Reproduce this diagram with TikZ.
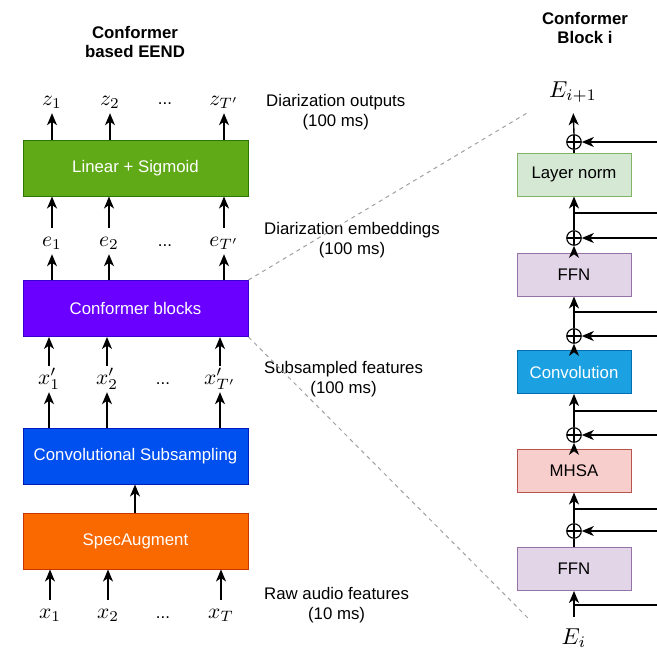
\documentclass[tikz,border=0pt]{standalone}
\usepackage{fontspec}
\setmainfont{Liberation Sans}
\usetikzlibrary{arrows.meta,calc}

\definecolor{linfill}{HTML}{60A917}
\definecolor{linline}{HTML}{2D7600}
\definecolor{conffill}{HTML}{6A00FF}
\definecolor{confline}{HTML}{3700CC}
\definecolor{subfill}{HTML}{0050EF}
\definecolor{subline}{HTML}{001DBC}
\definecolor{specfill}{HTML}{FA6800}
\definecolor{specline}{HTML}{C73500}
\definecolor{lnfill}{HTML}{D5E8D4}
\definecolor{lnline}{HTML}{82B366}
\definecolor{ffnfill}{HTML}{E1D5E7}
\definecolor{ffnline}{HTML}{9673A6}
\definecolor{cvfill}{HTML}{1BA1E2}
\definecolor{cvline}{HTML}{006EAF}
\definecolor{mhfill}{HTML}{F8CECC}
\definecolor{mhline}{HTML}{B85450}
\definecolor{guide}{HTML}{A0A0A0}

% math labels: 10pt math scaled up
\newcommand{\mlab}[1]{\scalebox{2.15}{$#1$}}
\newcommand{\mlabE}[1]{\scalebox{2.3}{$#1$}}

\begin{document}
\begin{tikzpicture}[x=1pt,y=-1pt,
  txt/.style={font=\fontsize{16.8}{19.5}\selectfont},
  bigblk/.style={txt, draw, line width=1pt, minimum width=225pt, minimum height=56pt, text=white, inner sep=0pt},
  smallblk/.style={txt, draw, line width=1pt, minimum width=114pt, minimum height=43pt, inner sep=0pt},
  lab/.style={inner sep=2pt, text height=16pt, text depth=6pt, anchor=base},
  dotlab/.style={txt, anchor=base, inner sep=0pt},
  side/.style={txt, align=center, anchor=west, inner sep=0pt},
  ttl/.style={txt, font=\fontsize{16.8}{19.5}\selectfont\bfseries, align=center, inner sep=0pt},
  arr/.style={line width=1.4pt, -{Stealth[length=12pt,width=10pt,inset=3.5pt]}},
  ln/.style={line width=1.4pt},
  plus/.style={circle, draw, line width=1.1pt, minimum size=14.5pt, inner sep=0pt,
    path picture={\draw[line width=1.1pt] (path picture bounding box.north) -- (path picture bounding box.south)
      (path picture bounding box.west) -- (path picture bounding box.east);}},
  guideline/.style={guide, line width=1pt, dash pattern=on 4pt off 4pt}
]
\useasboundingbox (0,0) rectangle (657,651);

% ---------------- titles ----------------
\node[ttl] (t1) at (135,42) {Conformer\\based EEND};
\node[ttl] (t2) at (585,28) {Conformer\\Block i};

% ---------------- left stack ----------------
\node[bigblk, fill=linfill, draw=linline] (lin) at (135.5,168) {Linear + Sigmoid};
\node[bigblk, fill=conffill, draw=confline] (conf) at (135.5,308.5) {Conformer blocks};
\node[bigblk, fill=subfill, draw=subline] (csub) at (135.5,456) {Convolutional Subsampling};
\node[bigblk, fill=specfill, draw=specline] (spec) at (135.5,541) {SpecAugment};

% outputs
\node[lab] (z1) at (52,105) {\mlab{z_1}};
\node[lab] (z2) at (110,105) {\mlab{z_2}};
\node[dotlab] (zd) at (165,104) {...};
\node[lab] (zT) at (224,105) {\mlab{z_{T'}}};
\foreach \n in {z1,z2,zT} \draw[arr] (lin.north -| \n) -- (\n.south);

% embeddings
\node[lab] (e1) at (52,246) {\mlab{e_1}};
\node[lab] (e2) at (109,246) {\mlab{e_2}};
\node[dotlab] (ed) at (165,246) {...};
\node[lab] (eT) at (224,246) {\mlab{e_{T'}}};
\foreach \n in {e1,e2,eT} {
  \draw[arr] (conf.north -| \n) -- (\n.south);
  \draw[arr] (\n.north) -- (lin.south -| \n);
}

% subsampled features
\node[lab] (xp1) at (49,384) {\mlab{x'_1}};
\node[lab] (xp2) at (107,384) {\mlab{x'_2}};
\node[dotlab] (xpd) at (163,384) {...};
\node[lab] (xpT) at (220,384) {\mlab{x'_{T'}}};
\foreach \n in {xp1,xp2,xpT} {
  \draw[arr] (csub.north -| \n) -- (\n.south);
  \draw[arr] (\n.north) -- (conf.south -| \n);
}
\coordinate (sa) at ($(spec.north)+(-0.5,0)$);
\draw[arr] (sa) -- (csub.south -| sa);

% raw features
\node[lab] (x1) at (50,618) {\mlab{x_1}};
\node[lab] (x2) at (108,618) {\mlab{x_2}};
\node[dotlab] (xd) at (163,618) {...};
\node[lab] (xT) at (221,618) {\mlab{x_T}};
\foreach \n in {x1,x2,xT} \draw[arr] (\n.north) -- (spec.south -| \n);

% side captions
\node[side] (c1) at (266,112) {Diarization outputs\\(100 ms)};
\node[side] (c2) at (264,240) {Diarization embeddings\\(100 ms)};
\node[side] (c3) at (264,379) {Subsampled features\\(100 ms)};
\node[side] (c4) at (264,605) {Raw audio features\\(10 ms)};

% ---------------- conformer block ----------------
\node[smallblk, fill=lnfill, draw=lnline] (lnb) at (574,174.5) {Layer norm};
\node[smallblk, fill=ffnfill, draw=ffnline] (ffa) at (574,274.5) {FFN};
\node[smallblk, fill=cvfill, draw=cvline, text=white] (cv) at (574,372) {Convolution};
\node[smallblk, fill=mhfill, draw=mhline] (mh) at (574,470.5) {MHSA};
\node[smallblk, fill=ffnfill, draw=ffnline] (ffb) at (574,569) {FFN};

\node[plus] (p1) at (574,142) {};
\node[plus] (p2) at (574,238) {};
\node[plus] (p3) at (574,336) {};
\node[plus] (p4) at (574,435) {};
\node[plus] (p5) at (574,531) {};

\node[lab] (Eo) at (573,97) {\mlabE{E_{i+1}}};
\node[lab] (Ei) at (574,644) {\mlabE{E_i}};

% main path
\draw[arr, shorten <=9pt] (Ei.north) -- (ffb.south);
\draw[ln] (ffb.north) -- (p5.south);
\draw[arr] (p5.north) -- (mh.south);
\draw[arr] (mh.north) -- (p4.south);
\draw[arr] (p4.north) -- (cv.south);
\draw[arr] (cv.north) -- (p3.south);
\draw[arr] (p3.north) -- (ffa.south);
\draw[arr] (ffa.north) -- (p2.south);
\draw[arr] (p2.north) -- (lnb.south);
\draw[ln] (lnb.north) -- (p1.south);
\draw[arr, shorten >=8pt] (p1.north) -- (Eo.south);

% residual branches leaving the main path
\coordinate (b1) at (574,213);  \coordinate (b1r) at (657,213);
\coordinate (b2) at (574,312);  \coordinate (b2r) at (657,312);
\coordinate (b3) at (574,411);  \coordinate (b3r) at (657,411);
\coordinate (b4) at (574,509);  \coordinate (b4r) at (657,509);
\coordinate (b5) at (574,605);  \coordinate (b5r) at (657,605);
\foreach \b in {b1,b2,b3,b4,b5} \draw[ln] (\b) -- (\b r);

% residual returns into the adders
\foreach \p in {p1,p2,p3,p4,p5} {
  \coordinate (\p r) at ($(\p) + (83,0)$);
  \draw[arr] (\p r) -- (\p.east);
}

% zoom guides
\coordinate (g1) at (527,113);
\coordinate (g2) at (528,618);
\draw[guideline] (conf.north east) -- (g1);
\draw[guideline] (conf.south east) -- (g2);
\end{tikzpicture}
\end{document}
